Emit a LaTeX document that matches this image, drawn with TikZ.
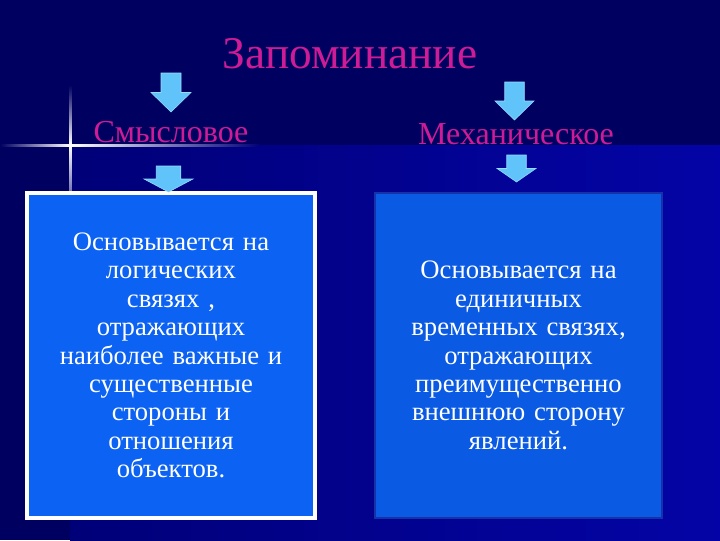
\documentclass[tikz,border=0pt]{standalone}
\usepackage{fontspec}
\setmainfont{Liberation Serif}
\definecolor{slidenavy}{RGB}{0,0,96}
\definecolor{slidelow}{RGB}{0,0,120}
\definecolor{slideright}{RGB}{4,4,166}
\definecolor{headpink}{RGB}{206,28,150}
\definecolor{arrowblue}{RGB}{96,196,250}
\definecolor{arrowedge}{RGB}{150,220,255}
\definecolor{leftfill}{RGB}{12,98,242}
\definecolor{rightfill}{RGB}{10,90,228}
\definecolor{rightedge}{RGB}{20,50,170}
\tikzset{
dnarrow/.pic={
  \filldraw[fill=arrowblue, draw=arrowedge, line width=0.4pt]
    (-0.25,0) -- (0.25,0) -- (0.25,0.5) -- (0.5,0.5) -- (0,1) -- (-0.5,0.5) -- (-0.25,0.5) -- cycle;
  },
headline/.style={text=headpink, font=\fontsize{34}{38}\selectfont},
kindline/.style={text=headpink, font=\fontsize{24}{27}\selectfont},
boxtext/.style={text=white, align=center, text width=200pt,
  font=\fontsize{20}{21.3}\selectfont, minimum height=243.75pt}
}
\begin{document}
\begin{tikzpicture}[x=0.75pt, y=-0.75pt]
  % background
  \useasboundingbox (0,0) rectangle (720,540);
  \fill[slidenavy] (0,0) rectangle (720,540);
  \shade[left color=slidelow, right color=slideright] (70,145) rectangle (720,540);
  % flare
  \shade[left color=slidenavy, right color=white] (0,144) rectangle (70,146.5);
  \shade[left color=white, right color=slidelow] (70,144) rectangle (260,146.5);
  \shade[top color=slidenavy, bottom color=white] (69,85) rectangle (71.5,145);
  \shade[top color=white, bottom color=slidelow] (69,145) rectangle (71.5,230);
  % headings
  \node[headline] (memory) at (350,54) {Запоминание};
  \node[kindline] (sense) at (171,132) {Смысловое};
  \node[kindline] (mech) at (516,134) {Механическое};
  % boxes
  \node[boxtext, fill=leftfill, draw=white, line width=2.5pt, minimum width=216pt]
    (sensebox) at (171,355.5) {Основывается на\\ логических\\ связях ,\\ отражающих\\ наиболее важные и\\ существенные\\ стороны и\\ отношения\\ объектов.};
  \node[boxtext, fill=rightfill, draw=rightedge, line width=1.5pt, minimum width=215pt]
    (mechbox) at (518.5,355.5) {Основывается на\\ единичных\\ временных связях,\\ отражающих\\ преимущественно\\ внешнюю сторону\\ явлений.};
  % arrows
  \pic[xscale=40, yscale=39] at (171,73) {dnarrow};
  \pic[xscale=39, yscale=38] at (514.5,82) {dnarrow};
  \pic[xscale=49, yscale=26] at (168.5,166) {dnarrow};
  \pic[xscale=39, yscale=27] at (516.5,155) {dnarrow};
\end{tikzpicture}
\end{document}
